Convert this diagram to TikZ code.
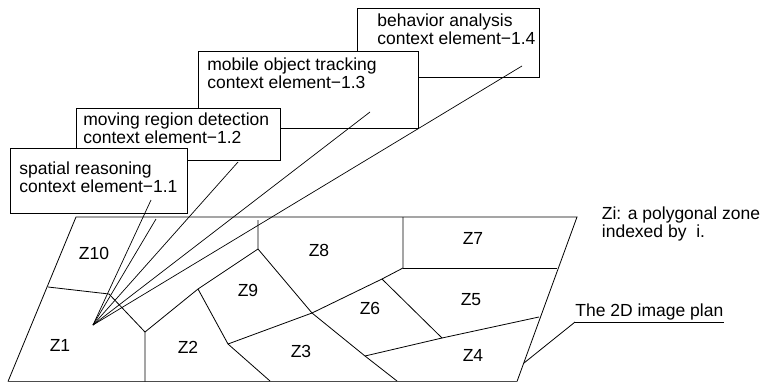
\documentclass[tikz,border=0pt]{standalone}
\usepackage{fontspec}
\setmainfont{Liberation Sans}
\usepackage{tikz}
\usetikzlibrary{calc}

\begin{document}
\begin{tikzpicture}[x=1pt,y=-1pt,line width=0.8pt,
  every node/.style={font=\fontsize{17.5}{17.5}\selectfont},
  ctxbox/.style={draw,fill=white,inner sep=0pt,outer sep=0pt,anchor=north west},
  ctxlabel/.style={align=left,anchor=base west,inner sep=0pt},
  zone/.style={inner sep=0pt},
  ray/.style={line width=0.7pt}]
\useasboundingbox (0,0) rectangle (760,383);
% the image plan
\coordinate (tl) at (76,217);
\coordinate (tr) at (577,217);
\coordinate (br) at (517,381.5);
\coordinate (bl) at (8,381.5);
\draw (bl) -- (tl) -- (tr) -- (br);
\draw[line width=1.3pt,black!70] (bl) -- (br);
% zone borders
\coordinate (a) at (48,287);
\coordinate (b) at (109,294);
\coordinate (c) at (145,332);
\coordinate (d) at (198,289);
\coordinate (e) at (258,249);
\coordinate (f) at (312,313);
\coordinate (g) at (228,344);
\coordinate (h) at (365,356);
\coordinate (i) at (403,268);
\coordinate (j) at (382,279);
\coordinate (k) at (442,338);
\draw (a) -- (b) -- (c) -- (c|-bl);
\draw (c) -- (d) -- (e) -- (258,220);
\draw (e) -- (f) -- (h) -- (397,381);
\draw (d) -- (g) -- (270,381);
\draw (g) -- (f) -- (j) -- (i) -- (i|-tl);
\draw (i) -- (557,268);
\draw (j) -- (k);
\draw (h) -- (k) -- (539,317);
\node[zone] (z1) at (60,345) {Z1};
\node[zone] (z2) at (188,347) {Z2};
\node[zone] (z3) at (301,351) {Z3};
\node[zone] (z4) at (473,355) {Z4};
\node[zone] (z5) at (471,300) {Z5};
\node[zone] (z6) at (370,308) {Z6};
\node[zone] (z7) at (473,238) {Z7};
\node[zone] (z8) at (319,250) {Z8};
\node[zone] (z9) at (248,290) {Z9};
\node[zone] (z10) at (94,253) {Z10};
% context elements
\node[ctxbox,minimum width=182pt,minimum height=69pt] (ce4) at (357,8) {};
\node[ctxlabel] (ce4lbl) at (377,44) {behavior analysis\\context element−1.4};
\node[ctxbox,minimum width=220pt,minimum height=77pt] (ce3) at (198,51) {};
\node[ctxlabel] (ce3lbl) at (207,88) {mobile object tracking\\context element−1.3};
\node[ctxbox,minimum width=204pt,minimum height=52pt] (ce2) at (76,108) {};
\node[ctxlabel] (ce2lbl) at (83,143) {moving region detection\\context element−1.2};
\node[ctxbox,minimum width=177pt,minimum height=65pt] (ce1) at (10,148) {};
\node[ctxlabel] (ce1lbl) at (19,192) {spatial reasoning\\context element−1.1};
\coordinate (o) at (93,325);
\draw[ray] (o) -- ([shift={(-36,-13)}]ce1.south east);
\draw[ray] (o) -- ([shift={(-31,6)}]ce1.south east);
\draw[ray] (o) -- ([shift={(-42,2)}]ce2.south east);
\draw[ray] (o) -- ([shift={(-48,-16)}]ce3.south east);
\draw[ray] (o) -- ([shift={(-17,-11)}]ce4.south east);
% notes
\node[ctxlabel] (legend) at (601.5,237) {Zi: a polygonal zone\\indexed by~ i.};
\node[anchor=base west,inner xsep=0pt,inner ysep=2pt] (plan) at (575,316) {The 2D image plan};
\coordinate (pr) at (524,363);
\draw (plan.south west) -- (plan.south east);
\draw (plan.south west) -- (pr);
\end{tikzpicture}
\end{document}
